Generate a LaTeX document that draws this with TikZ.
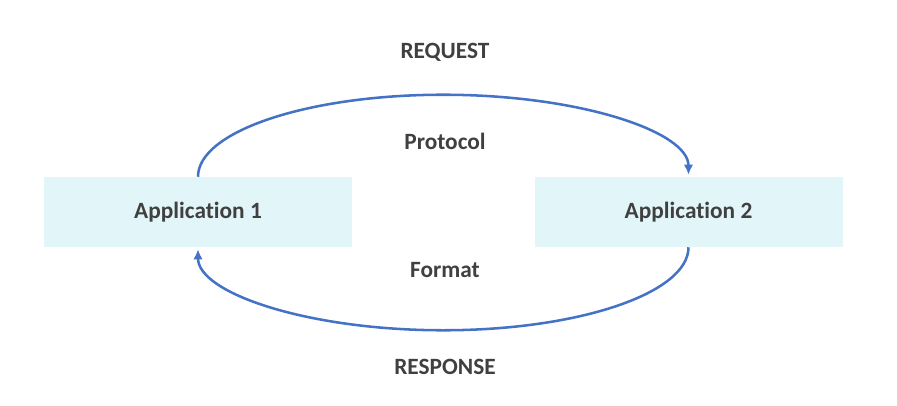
\documentclass[tikz,border=0pt]{standalone}
\usepackage{fontspec}
\setmainfont{Carlito}[Ligatures=NoCommon]
\usetikzlibrary{arrows.meta}
\definecolor{appfill}{HTML}{E2F5F8}
\definecolor{linkblue}{HTML}{4472C4}
\definecolor{labelgray}{HTML}{404040}
\begin{document}
\begin{tikzpicture}[x=0.75pt,y=0.75pt,
	app/.style={fill=appfill,minimum width=231pt,minimum height=52.5pt,inner sep=0pt,font=\fontsize{17.5}{21}\selectfont\bfseries,text=labelgray},
	tag/.style={font=\fontsize{17.5}{21}\selectfont\bfseries,text=labelgray},
	link/.style={draw=linkblue,line width=1.9pt,-{Latex[length=7.5pt,width=7pt]},shorten >=1.5pt}]
			\useasboundingbox (0,0) rectangle (897,405);
			\node[app] (app1) at (198,193) {Application 1};
			\node[app] (app2) at (688.5,193) {Application 2};
			\node[tag] (request) at (445,353) {REQUEST};
			\node[tag] (protocol) at (445,264) {Protocol};
			\node[tag] (format) at (445,135) {Format};
			\node[tag] (response) at (445,38) {RESPONSE};
			\draw[link] (app1.north) arc[start angle=180,end angle=0,x radius=245.25,y radius=82];
			\draw[link] (app2.south) arc[start angle=0,end angle=-180,x radius=245.25,y radius=83];
		\end{tikzpicture}
\end{document}
